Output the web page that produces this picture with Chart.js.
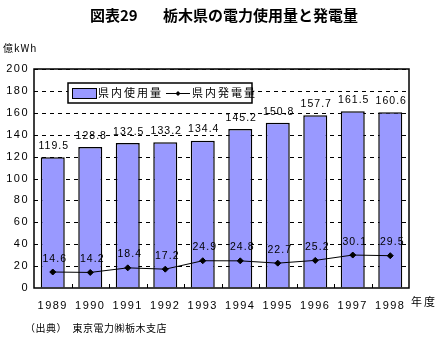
<!DOCTYPE html>
<html>
<head>
<meta charset="utf-8">
<script src="https://cdn.jsdelivr.net/npm/chart.js@4"></script>
<style>
  html, body { margin: 0; padding: 0; background: #fff; }
  #wrap { width: 436px; height: 339px; position: relative; }
</style>
</head>
<body>
<div id="wrap"><canvas id="chart" width="436" height="339"></canvas></div>
<script>
(function() {
    'use strict';

    const years = ['1989', '1990', '1991', '1992', '1993', '1994', '1995', '1996', '1997', '1998'];
    const usage = [119.5, 128.8, 132.5, 133.2, 134.4, 145.2, 150.8, 157.7, 161.5, 160.6];
    const generation = [14.6, 14.2, 18.4, 17.2, 24.9, 24.8, 22.7, 25.2, 30.1, 29.5];
    const usageLabel = '県内使用量';
    const generationLabel = '県内発電量';

    const jpFont = '"Noto Sans CJK JP", "Noto Sans", sans-serif';
    const numFont = '"Liberation Sans", Arial, sans-serif';

    // dashed gridlines behind the bars
    const dashedGrid = {
        id: 'dashedGrid',
        beforeDatasetsDraw: function(c) {
            const ctx = c.ctx;
            const area = c.chartArea;
            const y = c.scales.y;
            ctx.save();
            ctx.strokeStyle = '#000';
            ctx.lineWidth = 1;
            ctx.setLineDash([4, 4]);
            ctx.beginPath();
            y.ticks.forEach(function(t) {
                if (t.value === 0) return;
                const py = Math.round(y.getPixelForValue(t.value)) + 0.5;
                ctx.moveTo(area.left, py);
                ctx.lineTo(area.right, py);
            });
            ctx.stroke();
            ctx.restore();
        }
    };

    // titles, labels, legend, frame: drawn on top of the chart
    const decor = {
        id: 'decor',
        beforeDraw: function(c) {
            c.ctx.letterSpacing = '1.5px';
        },
        afterDraw: function(c) {
            const ctx = c.ctx;
            const area = c.chartArea;
            const x = c.scales.x;
            const y = c.scales.y;
            ctx.save();
            ctx.letterSpacing = '0px';

            // plot frame
            ctx.strokeStyle = '#000';
            ctx.lineWidth = 1.5;
            ctx.strokeRect(area.left, area.top, area.right - area.left, area.bottom - area.top);

            // little ticks between categories
            ctx.lineWidth = 1;
            ctx.beginPath();
            for (let i = 0; i < years.length - 1; i++) {
                const px = Math.round((x.getPixelForValue(i) + x.getPixelForValue(i + 1)) / 2) + 0.5;
                ctx.moveTo(px, area.bottom);
                ctx.lineTo(px, area.bottom - 4);
            }
            ctx.stroke();

            // title
            ctx.fillStyle = '#000';
            ctx.textBaseline = 'middle';
            ctx.textAlign = 'left';
            ctx.font = 'bold 15px ' + jpFont;
            ctx.fillText('図表29', 90, 15);
            ctx.fillText('栃木県の電力使用量と発電量', 163, 15);

            // unit, footnote
            ctx.font = '10px ' + jpFont;
            ctx.letterSpacing = '1px';
            ctx.fillText('億kWh', 3, 48);
            ctx.font = '11px ' + jpFont;
            ctx.letterSpacing = '2px';
            ctx.fillText('年度', 411, 302);
            ctx.letterSpacing = '0.5px';
            ctx.font = '10px ' + jpFont;
            ctx.fillText('（出典）  東京電力㈱栃木支店', 25, 328);

            // value labels
            ctx.font = '10.5px ' + numFont;
            ctx.letterSpacing = '1px';
            ctx.textAlign = 'center';
            ctx.textBaseline = 'bottom';
            usage.forEach(function(v, i) {
                ctx.fillText(v.toFixed(1), x.getPixelForValue(i) + 1, y.getPixelForValue(v) - 6);
            });
            generation.forEach(function(v, i) {
                ctx.fillText(v.toFixed(1), x.getPixelForValue(i) + 2, y.getPixelForValue(v) - 8);
            });
            ctx.letterSpacing = '0px';

            // legend box
            ctx.fillStyle = '#fff';
            ctx.fillRect(68, 83, 184, 20);
            ctx.lineWidth = 1.5;
            ctx.strokeRect(68, 83, 184, 20);
            ctx.fillStyle = '#9999ff';
            ctx.fillRect(72, 88, 24, 10);
            ctx.lineWidth = 1;
            ctx.strokeRect(72.5, 88.5, 24, 10);
            ctx.beginPath();
            ctx.moveTo(166, 93.5);
            ctx.lineTo(190, 93.5);
            ctx.stroke();
            ctx.fillStyle = '#000';
            ctx.beginPath();
            ctx.moveTo(178, 91);
            ctx.lineTo(180.5, 93.5);
            ctx.lineTo(178, 96);
            ctx.lineTo(175.5, 93.5);
            ctx.closePath();
            ctx.fill();
            ctx.font = '11px ' + jpFont;
            ctx.letterSpacing = '2px';
            ctx.textAlign = 'left';
            ctx.textBaseline = 'middle';
            ctx.fillText(usageLabel, 98, 93);
            ctx.fillText(generationLabel, 192, 93);
            ctx.restore();
        }
    };

    new Chart(document.getElementById('chart'), {
        data: {
            labels: years,
            datasets: [{
                type: 'line',
                label: generationLabel,
                data: generation,
                borderColor: '#000',
                borderWidth: 1,
                pointStyle: 'rectRot',
                pointRadius: 3,
                pointBackgroundColor: '#000',
                pointBorderColor: '#000',
                tension: 0,
                order: 0,
            }, {
                type: 'bar',
                label: usageLabel,
                data: usage,
                backgroundColor: '#9999ff',
                borderColor: '#000',
                borderWidth: 1.5,
                categoryPercentage: 1,
                barPercentage: 0.64,
                order: 1,
            }],
        },
        options: {
            responsive: false,
            animation: false,
            devicePixelRatio: 1,
            layout: { padding: { top: 69, right: 27, left: 0, bottom: 0 } },
            plugins: {
                legend: { display: false },
                title: { display: false },
                tooltip: { enabled: false },
            },
            scales: {
                x: {
                    offset: true,
                    grid: { display: false },
                    border: { display: false },
                    ticks: {
                        color: '#000',
                        padding: 3,
                        maxRotation: 0,
                        font: { family: numFont, size: 11 },
                    },
                    afterFit: function(s) { s.height = 51; },
                },
                y: {
                    min: 0,
                    max: 200,
                    grid: { color: 'rgba(0,0,0,0)', drawTicks: false },
                    border: { display: false },
                    ticks: {
                        stepSize: 20,
                        color: '#000',
                        padding: 5,
                        font: { family: numFont, size: 11 },
                    },
                    afterFit: function(s) { s.width = 34; },
                },
            },
        },
        plugins: [dashedGrid, decor],
    });
})();
</script>
</body>
</html>
